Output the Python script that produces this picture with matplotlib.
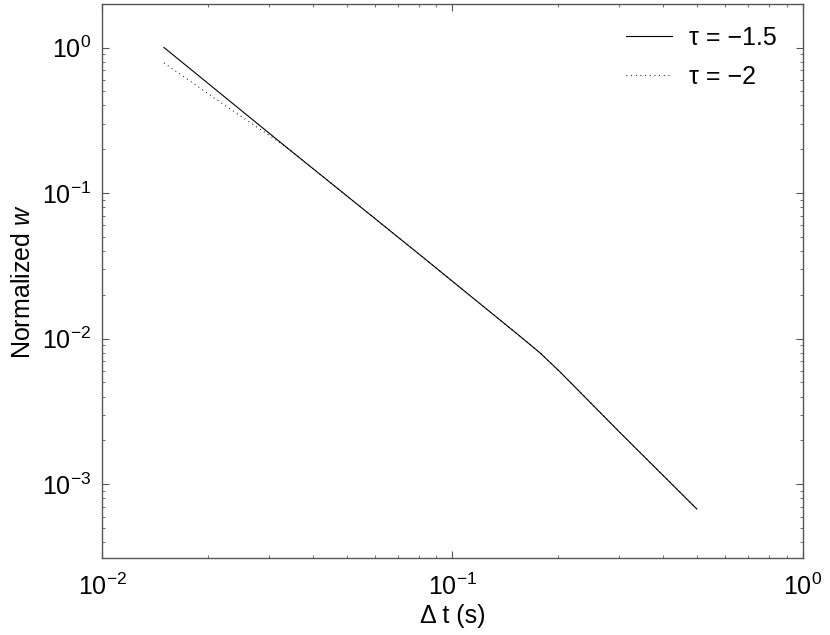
import matplotlib
matplotlib.use("Agg")
import matplotlib.pyplot as plt
from matplotlib.ticker import LogLocator, NullFormatter

plt.rcParams['font.family'] = ['Liberation Sans', 'DejaVu Sans']
plt.rcParams['mathtext.fontset'] = 'custom'
plt.rcParams['mathtext.rm'] = 'Liberation Sans'
plt.rcParams['mathtext.it'] = 'Liberation Sans:italic'
plt.rcParams['mathtext.sf'] = 'Liberation Sans'

# data
dt_15 = [0.0150, 0.0336, 0.0510, 0.0809, 0.1561, 0.1780, 0.2031, 0.3013, 0.499]
w_15 = [1.0, 0.206, 0.0918, 0.03753, 0.01037, 0.00798, 0.0059, 0.00226, 0.000676]

dt_2 = [0.0150, 0.0182, 0.0211, 0.0247, 0.0288, 0.0336, 0.0510, 0.0809, 0.1561, 0.1780, 0.2031, 0.3013, 0.499]
w_2 = [0.783, 0.567, 0.442, 0.341, 0.266, 0.206, 0.0918, 0.03753, 0.01037, 0.00798, 0.0059, 0.00226, 0.000676]

labels = ['\u03c4 = \u22121.5', '\u03c4 = \u22122']
xlim = (1e-2, 1e0)
ylim = (3.1e-4, 1.98)

fig = plt.figure(figsize=(8.3, 6.35), dpi=100)
ax = fig.add_axes([0.1233, 0.1208, 0.9669 - 0.1233, 0.9932 - 0.1208])

ax.loglog(dt_15, w_15, color='black', lw=0.8, label=labels[0])
ax.loglog(dt_2, w_2, color='black', lw=0.8, dashes=(0.8, 3.4), label=labels[1])

ax.set_xlim(*xlim)
ax.set_ylim(*ylim)

ax.xaxis.set_major_locator(LogLocator(base=10, numticks=10))
ax.yaxis.set_major_locator(LogLocator(base=10, numticks=10))
ax.xaxis.set_minor_locator(LogLocator(base=10, subs=range(2, 10), numticks=20))
ax.yaxis.set_minor_locator(LogLocator(base=10, subs=range(2, 10), numticks=20))
ax.xaxis.set_minor_formatter(NullFormatter())
ax.yaxis.set_minor_formatter(NullFormatter())

edge = '#555555'
for s in ax.spines.values():
    s.set_color(edge)
    s.set_linewidth(1.0)
ax.tick_params(which='both', direction='in', top=True, right=True, color=edge,
               labelsize=18, labelcolor='black')
ax.tick_params(axis='x', which='major', pad=11)
ax.tick_params(axis='y', which='major', pad=8)
ax.tick_params(which='major', length=5, width=0.8)
ax.tick_params(which='minor', length=2.5, width=0.6)

ax.set_xlabel('\u0394 t (s)', fontsize=18, labelpad=3)
ax.set_ylabel('Normalized $\\mathit{w}$', fontsize=18, labelpad=5)

leg = ax.legend(loc='upper right', frameon=False, fontsize=18, handlelength=1.85,
                handletextpad=0.68, labelspacing=0.62, borderaxespad=0.45,
                bbox_to_anchor=(0.9935, 1.0))

fig.savefig('out.png', dpi=100)
